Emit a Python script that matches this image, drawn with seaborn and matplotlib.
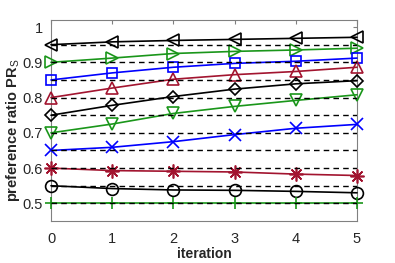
import matplotlib
matplotlib.use("Agg")
import matplotlib.pyplot as plt
import seaborn as sns
import pandas as pd

sns.set_style("white")
plt.rcParams['font.family'] = ['Liberation Sans', 'DejaVu Sans']
plt.rcParams['mathtext.fontset'] = 'custom'
plt.rcParams['mathtext.rm'] = 'Liberation Sans'
plt.rcParams['mathtext.bf'] = 'Liberation Sans:bold'

iterations = [0, 1, 2, 3, 4, 5]
s_ltri = [0.950, 0.958, 0.962, 0.965, 0.968, 0.971]
s_rtri = [0.900, 0.912, 0.925, 0.931, 0.935, 0.940]
s_sq = [0.850, 0.870, 0.886, 0.897, 0.903, 0.912]
s_utri = [0.800, 0.827, 0.852, 0.865, 0.874, 0.886]
s_dia = [0.750, 0.778, 0.803, 0.824, 0.839, 0.848]
s_dtri = [0.700, 0.725, 0.755, 0.775, 0.792, 0.808]
s_x = [0.650, 0.659, 0.675, 0.695, 0.713, 0.724]
s_star = [0.600, 0.593, 0.591, 0.589, 0.583, 0.579]
s_circ = [0.550, 0.542, 0.538, 0.537, 0.534, 0.530]
s_plus = [0.500, 0.500, 0.500, 0.500, 0.500, 0.500]

BLACK = "#000000"
GREEN = "#1a961a"
BLUE = "#0000ff"
RED = "#a2142f"

series = [
    (s_ltri, BLACK, "<", 9),
    (s_rtri, GREEN, ">", 9),
    (s_sq, BLUE, "s", 7),
    (s_utri, RED, "^", 9),
    (s_dia, BLACK, "D", 6.5),
    (s_dtri, GREEN, "v", 9),
    (s_x, BLUE, "x", 8),
    (s_star, RED, (8, 2, 0), 10),
    (s_circ, BLACK, "o", 8.5),
    (s_plus, GREEN, "+", 9),
]

fig = plt.figure(figsize=(3.95, 2.63), dpi=100)
ax = fig.add_axes([51/395, 1-221/263, (357-51)/395, (221-20)/263])

for vals, col, mk, ms in series:
    df = pd.DataFrame({"iteration": iterations, "value": vals})
    sns.lineplot(data=df, x="iteration", y="value", ax=ax, color=col,
                 marker=mk, markersize=ms, markerfacecolor="none",
                 markeredgecolor=col, markeredgewidth=1.2, linewidth=1.2,
                 clip_on=False, zorder=3)

for vals, col, mk, ms in series:
    ax.axhline(vals[0], color="black", linestyle=(0, (4, 3)), linewidth=1.0, zorder=4)

ax.set_xlim(0, 5)
ax.set_ylim(0.45, 1.02)
ax.set_xticks(iterations)
ax.set_yticks([0.5, 0.6, 0.7, 0.8, 0.9, 1.0])
ax.set_yticklabels(["0.5", "0.6", "0.7", "0.8", "0.9", "1"])
ax.tick_params(direction="in", length=3, color="#808080", labelsize=10.5,
               top=True, right=True, labelcolor="#262626", pad=6)
ax.tick_params(axis="x", pad=8)
for sp in ax.spines.values():
    sp.set_color("#808080")
    sp.set_linewidth(0.8)
ax.set_xlabel("iteration", fontsize=10, fontweight="bold", color="#262626", labelpad=1)
ax.set_ylabel("preference ratio PR$_\\mathrm{S}$", fontsize=10.5, fontweight="bold",
              color="#262626")
ax.yaxis.set_label_coords(-0.095, 0.45)
fig.savefig("out.png", dpi=100)
